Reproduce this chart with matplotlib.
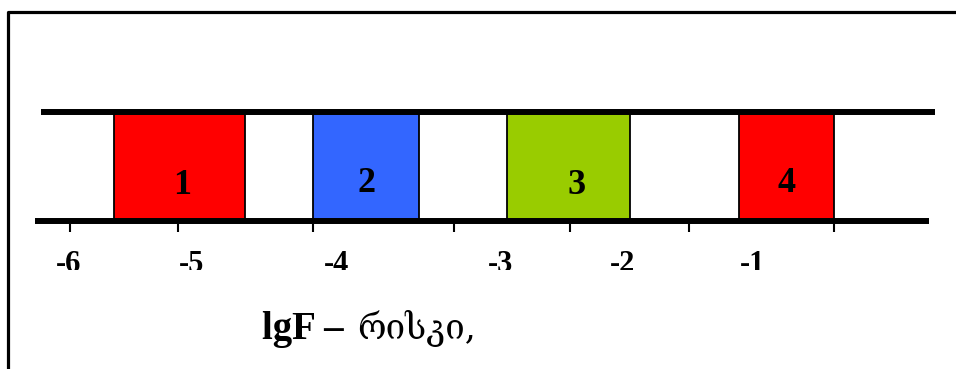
import matplotlib.pyplot as plt
from matplotlib.patches import Rectangle

# diagram is laid out on a 956 x 369 grid (same as the picture)
box_labels = ["1", "2", "3", "4"]
box_left = [114, 313, 507, 739]
box_right = [245, 419, 630, 834]
box_colors = ["#FF0000", "#3366FF", "#99CC00", "#FF0000"]
box_text_x = [182, 367, 577, 787]
box_text_y = [186, 183, 186, 183]

tick_pos = [70, 178, 313, 454, 570, 689, 834]
tick_labels = ["-6", "-5", "-4", "-3", "-2", "-1"]
tick_label_x = [69, 192, 337, 501, 623, 753]

band_top, band_bottom = 112, 221

fig = plt.figure(figsize=(9.56, 3.69), dpi=100)
ax = fig.add_axes([0, 0, 1, 1])
ax.set_xlim(0, 956)
ax.set_ylim(369, 0)
ax.axis("off")

# frame around the picture (left and top edges)
ax.plot([8.5, 8.5, 956], [369, 11.5, 11.5], color="black", lw=2.3, solid_capstyle="projecting")

# coloured intervals
widths = [r - l for l, r in zip(box_left, box_right)]
ax.bar(box_left, band_bottom - band_top, width=widths, bottom=band_top, align="edge",
       color=box_colors, edgecolor="black", linewidth=1.3, zorder=2)
for lab, x, y in zip(box_labels, box_text_x, box_text_y):
    ax.text(x, y, lab, ha="center", va="center", fontsize=26, fontweight="bold",
            family="Liberation Serif", zorder=4)

# the two thick band lines
ax.plot([41, 935], [band_top, band_top], color="black", lw=4.3, zorder=3, solid_capstyle="butt")
ax.plot([35, 929], [band_bottom, band_bottom], color="black", lw=4.3, zorder=3, solid_capstyle="butt")

# ticks under the lower line
ax.vlines(tick_pos, band_bottom + 3, 232, color="black", lw=1.5)

# tick labels, cut off at the bottom like in the original
clip = Rectangle((0, 240), 956, 30, transform=ax.transData, visible=False)
ax.add_patch(clip)
for lab, x in zip(tick_labels, tick_label_x):
    t = ax.text(x, 272, lab, ha="center", va="baseline", fontsize=22, fontweight="bold",
                family="Liberation Serif")
    t.set_clip_path(clip)
    t.set_clip_on(True)

# axis caption
ax.text(262, 339, "lgF \u2013", ha="left", va="baseline", fontsize=28, fontweight="bold",
        family="Liberation Serif")
ax.text(357, 339, "რისკი,", ha="left", va="baseline", fontsize=25,
        family=["DejaVu Serif", "DejaVu Sans"])

fig.savefig("out.png", dpi=100)
